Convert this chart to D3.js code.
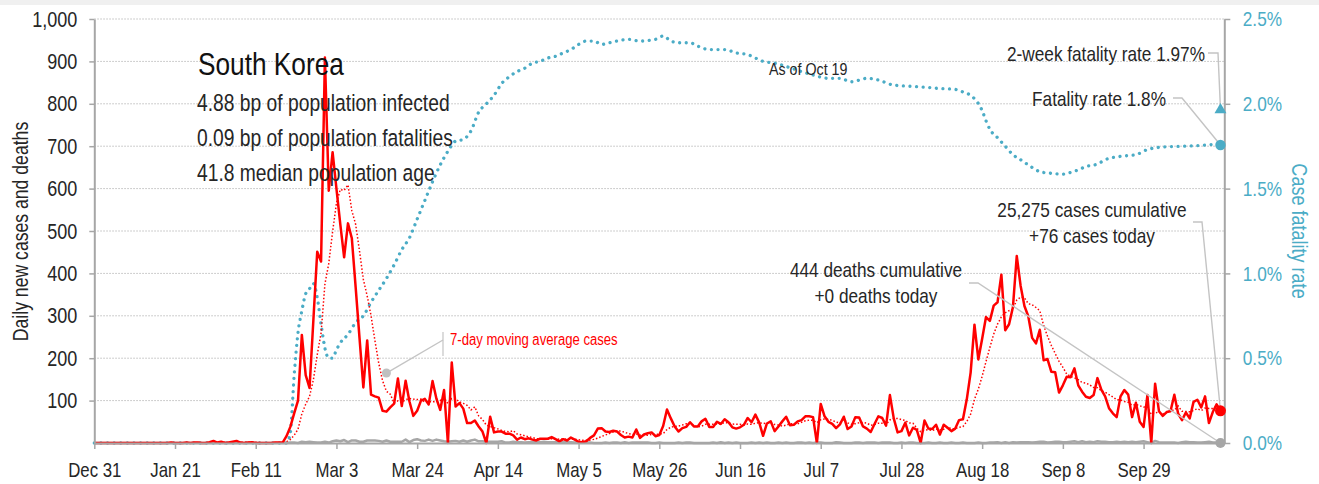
<!DOCTYPE html>
<html><head><meta charset="utf-8">
<script src="https://cdn.jsdelivr.net/npm/d3@7"></script>
<style>
html,body{margin:0;padding:0;background:#fff;}
svg{display:block;}
text{font-family:'Liberation Sans',Arial,sans-serif;}
</style></head><body>
<svg id="chart" width="1319" height="484"></svg>
<script>
// ---------------- data ----------------
const startDate = "2019-12-31";
const endDate = "2020-10-20";
const country = "South Korea";
const subtitleLines = ["4.88 bp of population infected", "0.09 bp of population fatalities", "41.8 median population age"];
const asOfLabel = "As of Oct 19";

// daily new cases, one value per day from Dec 31
const dailyCases = [
 0,0,0,0,0,0,0,0,0,0, 0,0,0,0,0,0,0,0,0,0,
 1,0,0,0,1,0,1,1,0,0,
 2,5,1,3,0,1,3,5,1,0,
 1,2,0,0,0,0,0,1,1,1,
 16,38,70,100,255,160,130,290,451,428,
 909,595,686,600,516,438,518,483,367,248,
 131,242,114,110,107,76,74,84,93,152,
 87,147,98,64,76,100,104,91,146,105,
 78,125,0,190,86,94,81,47,47,53,
 39,27,0,62,25,27,27,22,22,18,
 8,13,9,11,8,6,10,10,10,14,
 9,4,9,6,13,8,3,2,4,12,
 18,34,35,27,26,29,27,19,13,15,
 13,32,12,20,23,25,16,19,40,79,
 58,39,27,35,38,49,39,39,51,57,
 38,38,50,45,56,49,37,34,37,43,
 59,49,67,48,17,46,51,28,39,51,
 62,42,43,51,54,63,63,61,0,92,
 63,50,45,35,44,62,33,39,61,60,
 39,34,26,45,63,59,41,113,58,25,
 28,48,18,36,31,0,53,34,33,43,
 20,43,36,28,34,54,56,103,166,279,
 197,246,297,288,324,332,397,266,280,320,
 441,371,323,299,248,235,267,195,198,168,
 167,119,136,156,155,176,136,121,109,106,
 113,153,126,110,82,70,61,110,125,114,
 61,95,50,38,113,0,140,75,64,73,
 75,114,69,54,72,58,97,102,84,110,
 47,73,91,76
];

// daily deaths, one value per day from Dec 31
const dailyDeaths = [
 0,0,0,0,0,0,0,0,0,0, 0,0,0,0,0,0,0,0,0,0,
 0,0,0,0,0,0,0,0,0,0, 0,0,0,0,0,0,0,0,0,0,
 0,0,0,0,0,0,0,0,0,0, 0,
 1,1,0,3,2,3,2,1,1,3,
 1,4,6,4,7,2,6,6,3,3,6,6,6,5,3,6,3,3,3,3,8,2,7,9,6,5,8,5,8,6,4,
 3,4,5,3,6,3,6,8,4,4,3,3,3,3,4,1,1,3,2,2,1,2,2,2,2,3,2,2,2,1,
 2,2,2,1,2,1,1,1,0,0,0,1,0,1,1,0,2,0,1,1,1,1,1,0,0,1,0,0,0,0,1,
 0,1,1,0,0,0,0,0,1,0,2,0,1,0,1,0,0,0,1,0,1,0,1,0,0,1,0,1,0,0,
 1,1,0,1,0,1,1,0,0,0,2,1,0,0,0,1,1,0,1,1,1,0,1,1,1,0,0,1,0,1,1,
 0,0,0,1,0,0,1,0,0,1,0,0,1,0,0,0,1,0,0,1,1,2,0,2,0,2,1,2,2,2,1,
 2,3,3,1,2,3,3,2,2,3,4,2,4,2,3,2,4,3,3,2,2,3,2,3,2,3,2,3,4,2,
 0,5,2,1,1,1,1,0,2,3,2,2,1,1,2,3,1,1,0
];

// case fatality rate (%): day index and value
const cfrDay = [0,50,51,52,53,54,55,56,57,58,59,60,61,62,63,64,66,68,70,72,74,76,78,80,82,84,86,88,90,92,94,96,98,100,102,104,106,108,110,112,114,116,118,120,122,124,126,128,130,132,134,136,139,142,146,148,150,152,155,157,160,164,167,170,172,174,177,180,184,187,191,194,197,201,204,208,215,220,224,226,228,229,231,232,233,235,237,239,241,243,246,249,252,254,256,258,261,263,267,271,274,278,283,288,291,293];
const cfrPct = [0,0,0.06,0.40,0.65,0.78,0.88,0.91,0.94,0.86,0.70,0.56,0.50,0.50,0.55,0.59,0.64,0.71,0.75,0.83,0.90,0.97,1.05,1.14,1.21,1.32,1.43,1.54,1.64,1.72,1.78,1.79,1.84,1.95,2.00,2.05,2.12,2.16,2.19,2.21,2.24,2.25,2.27,2.28,2.30,2.32,2.35,2.37,2.37,2.35,2.36,2.37,2.38,2.37,2.38,2.40,2.37,2.36,2.36,2.34,2.32,2.32,2.30,2.29,2.27,2.25,2.24,2.22,2.19,2.17,2.15,2.15,2.13,2.15,2.14,2.11,2.10,2.09,2.085,2.07,2.05,2.03,1.96,1.90,1.85,1.80,1.75,1.70,1.67,1.64,1.60,1.59,1.585,1.595,1.61,1.63,1.645,1.67,1.69,1.70,1.73,1.745,1.75,1.755,1.76,1.757];

const leftTicks = [100,200,300,400,500,600,700,800,900,1000];
const rightTicks = [0,0.5,1.0,1.5,2.0,2.5];
const xTickDays = [0,21,42,63,84,105,126,147,168,189,210,231,252,273];
const xTickLabels = ["Dec 31","Jan 21","Feb 11","Mar 3","Mar 24","Apr 14","May 5","May 26","Jun 16","Jul 7","Jul 28","Aug 18","Sep 8","Sep 29"];

const cumulativeCases = 25275, casesToday = 76;
const cumulativeDeaths = 444, deathsToday = 0;
const fatalityRate = 1.757, fatalityRateLabel = "1.8%";
const twoWeekRate = 1.97;
const avgNote = {day: 76, value: 165, text: "7-day moving average cases"};

// ---------------- chart ----------------
const W = 1319, H = 484;
const svg = d3.select("#chart");
const L = 94.3, R = 1224.3, T = 19, B = 443;
const teal = "#4bacc6", red = "#ff0000", gray = "#a6a6a6", ink = "#262626";
const SX = 0.82; // narrow-font horizontal squeeze

const parse = d3.utcParse("%Y-%m-%d");
const start = parse(startDate), end = parse(endDate);
const dateAt = i => d3.utcDay.offset(start, i);
const x = d3.scaleUtc().domain([start, end]).range([L, R]);
const yL = d3.scaleLinear().domain([0, 1000]).range([B, T]);
const yR = d3.scaleLinear().domain([0, 2.5]).range([B, T]);

function ntext(px, py, str, size, anchor, fill, rot) {
  return svg.append("text")
    .attr("transform", `translate(${px},${py})${rot ? ` rotate(${rot})` : ""} scale(${SX},1)`)
    .attr("text-anchor", anchor || "start").attr("fill", fill || ink)
    .style("font-size", size + "px").text(str);
}

svg.append("rect").attr("x",0).attr("y",0).attr("width",W).attr("height",H).attr("fill","#fff");
svg.append("rect").attr("x",0).attr("y",0).attr("width",W).attr("height",5).attr("fill","#f0f0f0");

// gridlines
svg.append("g").selectAll("line").data(leftTicks).join("line")
  .attr("x1", L).attr("x2", R).attr("y1", d => yL(d)).attr("y2", d => yL(d))
  .attr("stroke", "#bdbdbd").attr("stroke-width", 1).attr("stroke-dasharray", "1.5,1.5");

// CFR dotted line
const cfrData = cfrDay.map((d,i) => ({date: dateAt(d), v: cfrPct[i]}));
svg.append("path").datum(cfrData)
  .attr("fill","none").attr("stroke", teal).attr("stroke-width", 3.3)
  .attr("stroke-linecap","round").attr("stroke-dasharray","0.01,6.6")
  .attr("d", d3.line().x(d => x(d.date)).y(d => yR(d.v)).curve(d3.curveMonotoneX));

// 7-day average
const avg = dailyCases.map((v,i) => d3.mean(dailyCases.slice(Math.max(0,i-6), i+1)));
const lineL = d3.line().x((d,i) => x(dateAt(i))).y(d => yL(d));
svg.append("path").datum(avg)
  .attr("fill","none").attr("stroke", red).attr("stroke-width", 1.5)
  .attr("stroke-dasharray","1.5,2").attr("d", lineL);

// deaths
svg.append("path").datum(dailyDeaths)
  .attr("fill","none").attr("stroke", gray).attr("stroke-width", 2.5)
  .attr("stroke-linejoin","round").attr("d", lineL);

// daily cases
svg.append("path").datum(dailyCases)
  .attr("fill","none").attr("stroke", red).attr("stroke-width", 2.5)
  .attr("stroke-linejoin","round").attr("d", lineL);

// axes
const gx = svg.append("g").attr("transform", `translate(0,${B})`)
  .call(d3.axisBottom(x).tickValues(xTickDays.map(dateAt)).tickSize(6).tickSizeOuter(0)
    .tickFormat((d,i) => xTickLabels[i]));
gx.select(".domain").attr("stroke", gray).attr("stroke-width", 2);
gx.selectAll(".tick line").attr("stroke", gray).attr("stroke-width", 1.5);
gx.selectAll("text").attr("y", null).attr("dy", null)
  .attr("transform", `translate(0,34) scale(${SX},1)`).attr("fill", ink).style("font-size","20.5px");

const gl = svg.append("g").attr("transform", `translate(${L},0)`)
  .call(d3.axisLeft(yL).tickValues(leftTicks).tickSize(5).tickSizeOuter(0).tickPadding(12).tickFormat(d3.format(",")));
gl.select(".domain").attr("stroke", gray).attr("stroke-width", 2);
gl.selectAll(".tick line").attr("stroke", gray).attr("stroke-width", 1.5);
gl.selectAll("text").attr("x", null).attr("transform", `translate(-17,0) scale(${SX},1)`)
  .attr("fill", ink).style("font-size","22px");

const gr = svg.append("g").attr("transform", `translate(${R},0)`)
  .call(d3.axisRight(yR).tickValues(rightTicks).tickSize(6).tickSizeOuter(0).tickPadding(12.5).tickFormat(d => d.toFixed(1) + "%"));
gr.select(".domain").attr("stroke", gray).attr("stroke-width", 2);
gr.selectAll(".tick line").attr("stroke", gray).attr("stroke-width", 1.5);
gr.selectAll("text").attr("x", null).attr("transform", `translate(18.5,0) scale(${SX},1)`)
  .attr("fill", teal).style("font-size","21px");

// axis titles
ntext(28, 231.5, "Daily new cases and deaths", 21.5, "middle", ink, -90);
ntext(1292, 231, "Case fatality rate", 22, "middle", teal, 90);

// title block
ntext(198, 75, country, 32, "start", "#111");
subtitleLines.forEach((t,i) => ntext(197, 111 + i*35.2, t, 23.5, "start", ink));
ntext(769, 75, asOfLabel, 17.4, "start", ink);

// annotations
const last = dailyCases.length - 1;
const xe = x(dateAt(last));
const leader = d3.line();
const lc = "#c4c4c4";
function lead(pts){ svg.append("path").attr("d", leader(pts)).attr("fill","none").attr("stroke", lc).attr("stroke-width",1.4); }

lead([[1208,53],[1218,53],[xe, yR(twoWeekRate)]]);
lead([[1173,98],[1182,98],[xe, yR(fatalityRate)]]);
lead([[1193,222],[1202,222],[xe, yL(dailyCases[last])]]);
lead([[969,283],[978,283],[xe, yL(dailyDeaths[last])]]);

const nx = x(dateAt(avgNote.day)), ny = yL(avgNote.value);
lead([[nx, ny],[443,340]]);
svg.append("line").attr("x1",443).attr("x2",443).attr("y1",332).attr("y2",356).attr("stroke", lc).attr("stroke-width",1.2);
svg.append("circle").attr("cx", nx).attr("cy", ny).attr("r", 4.5).attr("fill", "#c0c0c0");
ntext(450, 345, avgNote.text, 16, "start", red);

ntext(1205, 61, `2-week fatality rate ${twoWeekRate.toFixed(2)}%`, 21, "end");
ntext(1166, 106, `Fatality rate ${fatalityRateLabel}`, 21, "end");
ntext(1092, 217, `${d3.format(",")(cumulativeCases)} cases cumulative`, 21, "middle");
ntext(1092, 243, `+${casesToday} cases today`, 21, "middle");
ntext(876, 277, `${cumulativeDeaths} deaths cumulative`, 21, "middle");
ntext(876, 303, `+${deathsToday} deaths today`, 21, "middle");

// end markers
svg.append("path").attr("transform", `translate(${xe},${yR(twoWeekRate)+1})`)
  .attr("d", d3.symbol(d3.symbolTriangle, 62)()).attr("fill", teal);
svg.append("circle").attr("cx", xe).attr("cy", yR(fatalityRate)).attr("r", 5.2).attr("fill", teal);
svg.append("circle").attr("cx", xe).attr("cy", yL(dailyDeaths[last])).attr("r", 5).attr("fill", gray);
svg.append("circle").attr("cx", xe).attr("cy", yL(dailyCases[last])).attr("r", 5.5).attr("fill", red);
</script>
</body></html>
